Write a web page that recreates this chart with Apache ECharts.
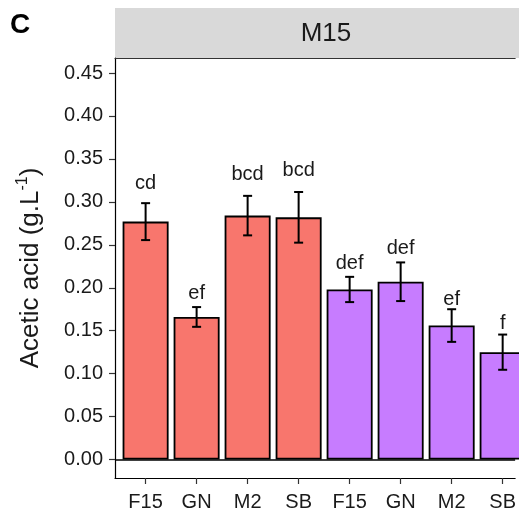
<!DOCTYPE html>
<html>
<head>
<meta charset="utf-8">
<script src="https://cdn.jsdelivr.net/npm/echarts@6/dist/echarts.min.js"></script>
<style>
  html, body { margin: 0; padding: 0; background: #fff; }
  #chart { width: 519px; height: 513px; }
</style>
</head>
<body>
<div id="chart"></div>
<script>
// ---- data ----
const categories = ['F15', 'GN', 'M2', 'SB', 'F15', 'GN', 'M2', 'SB'];
const groupOf = [0, 0, 0, 0, 1, 1, 1, 1];
const means = [0.277, 0.166, 0.284, 0.282, 0.198, 0.207, 0.156, 0.125];
const se = [0.0215, 0.0115, 0.023, 0.0295, 0.0147, 0.0225, 0.019, 0.0205];
const letters = ['cd', 'ef', 'bcd', 'bcd', 'def', 'def', 'ef', 'f'];
const letterY = [0.3148, 0.186, 0.3248, 0.3294, 0.2217, 0.2384, 0.179, 0.1512];
const yTicks = [0, 0.05, 0.10, 0.15, 0.20, 0.25, 0.30, 0.35, 0.40, 0.45];
const facet = 'M15';
const panelTag = 'C';

// ---- styling ----
const groupColors = ['#F8766D', '#C77CFF'];
const FONT = "'Liberation Sans', Arial, sans-serif";
const TXT = '#1a1a1a';
const positions = categories.map((c, i) => i + 1);

const chart = echarts.init(document.getElementById('chart'));

const option = {
  animation: false,
  backgroundColor: '#fff',
  textStyle: { fontFamily: FONT },
  grid: { left: 115, right: 0, top: 58, bottom: 35 },
  xAxis: [{
    type: 'value',
    min: 0.4,
    max: 0.4 + 404 / 51.5,
    splitLine: { show: false },
    axisLine: { show: true, onZero: false, lineStyle: { color: '#000', width: 1.2 } },
    axisTick: { show: true, customValues: positions, length: 6, lineStyle: { color: '#333', width: 1.2 } },
    axisLabel: {
      customValues: positions,
      formatter: v => categories[Math.round(v) - 1] || '',
      fontSize: 20, color: TXT, fontFamily: FONT, margin: 14
    }
  }, {
    type: 'value',
    position: 'top',
    min: 0.4,
    max: 0.4 + 404 / 51.5,
    splitLine: { show: false },
    axisLine: { show: true, onZero: false, lineStyle: { color: '#333', width: 1.2 } },
    axisTick: { show: false },
    axisLabel: { show: false }
  }],
  yAxis: {
    type: 'value',
    min: -0.0215,
    max: 0.4675,
    splitLine: { show: false },
    axisLine: { show: true, onZero: false, lineStyle: { color: '#000', width: 1.2 } },
    axisTick: { show: true, customValues: yTicks, length: 6, lineStyle: { color: '#333', width: 1.2 } },
    axisLabel: {
      customValues: yTicks,
      formatter: v => v.toFixed(2),
      fontSize: 20, color: TXT, fontFamily: FONT, margin: 12
    },
    name: 'Acetic acid (g.L{sup|-1})',
    nameLocation: 'middle',
    nameGap: 68,
    nameRotate: 90,
    nameTextStyle: {
      fontSize: 26, color: TXT, fontFamily: FONT, lineHeight: 32,
      rich: {
        sup: { fontSize: 16, fontFamily: FONT, color: TXT, verticalAlign: 'top', lineHeight: 14 }
      }
    }
  },
  series: [{
    type: 'bar',
    barWidth: 46,
    clip: true,
    data: means.map((m, i) => ({
      value: [positions[i], m],
      itemStyle: { color: groupColors[groupOf[i]], borderColor: '#000', borderWidth: 1.8 }
    })),
    markLine: {
      silent: true,
      symbol: ['none', 'none'],
      label: { show: false },
      lineStyle: { color: '#000', width: 1.5, type: 'solid' },
      data: [{ yAxis: 0 }]
    },
    z: 2
  }, {
    type: 'custom',
    clip: true,
    data: means.map((m, i) => [positions[i], m - se[i], m + se[i]]),
    renderItem: (params, api) => {
      const x = api.value(0);
      const lo = api.coord([x, api.value(1)]);
      const hi = api.coord([x, api.value(2)]);
      const hw = 4.5;
      const style = { stroke: '#000', lineWidth: 2 };
      return {
        type: 'group',
        children: [
          { type: 'line', shape: { x1: lo[0], y1: lo[1], x2: hi[0], y2: hi[1] }, style },
          { type: 'line', shape: { x1: hi[0] - hw, y1: hi[1], x2: hi[0] + hw, y2: hi[1] }, style },
          { type: 'line', shape: { x1: lo[0] - hw, y1: lo[1], x2: lo[0] + hw, y2: lo[1] }, style }
        ]
      };
    },
    z: 3
  }, {
    type: 'custom',
    clip: false,
    data: letters.map((t, i) => [positions[i], letterY[i]]),
    renderItem: (params, api) => {
      const p = api.coord([api.value(0), api.value(1)]);
      if (p[0] > 519 + 20) return null;
      return {
        type: 'text',
        x: p[0], y: p[1] + 4,
        style: {
          text: letters[params.dataIndex],
          fontSize: 20, fontFamily: FONT, fill: TXT,
          align: 'center', verticalAlign: 'bottom'
        }
      };
    },
    z: 4
  }],
  graphic: [
    { type: 'rect', shape: { x: 115, y: 8, width: 404, height: 50 }, style: { fill: '#D9D9D9' }, z: 0 },
    { type: 'text', x: 326, y: 34, style: { text: facet, fontSize: 26, fontFamily: FONT, fill: TXT, align: 'center', verticalAlign: 'middle' }, z: 1 },
    { type: 'text', x: 10, y: 25, style: { text: panelTag, fontSize: 28, fontWeight: 'bold', fontFamily: FONT, fill: '#000', align: 'left', verticalAlign: 'middle' }, z: 1 }
  ]
};

chart.setOption(option);
</script>
</body>
</html>
